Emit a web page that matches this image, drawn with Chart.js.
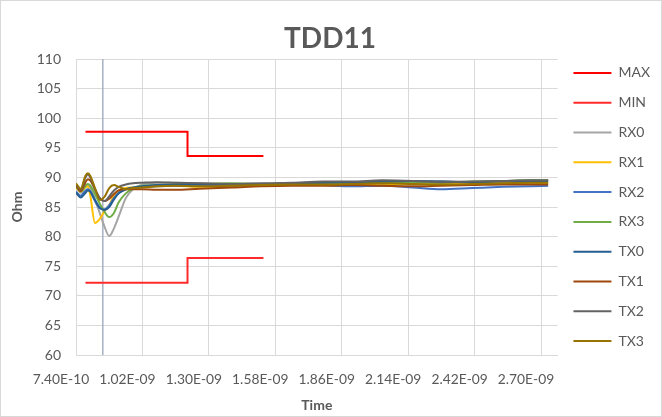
<!DOCTYPE html>
<html>
<head>
<meta charset="utf-8">
<script src="https://cdn.jsdelivr.net/npm/chart.js@4/dist/chart.umd.min.js"></script>
<style>
html,body{margin:0;padding:0;background:#fff;}
#wrap{width:662px;height:417px;position:relative;}
</style>
</head>
<body>
<div id="wrap"><canvas id="c"></canvas></div>
<script>
// ---- data (time in ns, impedance in Ohm) ----
const timeNs = [0.74,0.76,0.78,0.79,0.80,0.82,0.84,0.86,0.88,0.90,0.92,0.95,0.98,1.02,1.08,1.16,1.26,1.40,1.52,1.65,1.78,1.90,2.03,2.16,2.28,2.41,2.54,2.66,2.73];
const RX0 = [88.4,87.4,88.6,88.8,88.3,86.3,84.0,81.7,80.1,81.4,83.4,86.5,88.0,88.8,89.1,89.1,89.0,88.9,88.8,89.0,89.1,89.0,89.2,89.3,89.4,89.2,89.4,89.5,89.5];
const RX1 = [88.3,87.6,88.3,88.5,87.0,82.3,83.0,84.3,85.3,87.0,87.8,88.2,88.3,88.4,88.5,88.6,88.4,88.5,88.7,88.8,88.9,88.6,88.8,88.9,89.0,88.8,89.0,89.1,89.0];
const RX2 = [87.6,86.9,87.8,88.0,87.7,86.0,84.8,84.6,85.3,86.5,87.4,88.0,88.2,88.4,88.5,88.6,88.7,88.6,88.6,88.8,88.7,88.5,88.6,88.3,88.0,88.2,88.4,88.5,88.6];
const RX3 = [88.5,87.6,88.6,88.9,88.6,87.2,85.6,84.2,83.3,84.0,85.8,87.3,88.1,88.6,88.7,88.8,88.9,89.0,88.9,88.9,89.0,89.1,89.2,89.2,89.1,89.3,89.4,89.5,89.5];
const TX0 = [87.4,86.6,87.4,87.8,87.6,86.2,84.9,84.5,85.0,86.3,87.3,88.0,88.3,88.5,88.7,88.8,88.9,88.8,88.9,89.0,89.1,89.2,89.3,89.4,89.3,89.2,89.3,89.4,89.4];
const TX1 = [88.6,87.7,89.2,89.7,89.5,88.0,86.5,86.0,86.4,87.2,87.8,88.0,88.0,88.0,87.9,87.9,88.1,88.3,88.5,88.6,88.6,88.7,88.6,88.5,88.6,88.7,88.8,88.8,88.8];
const TX2 = [88.8,88.0,90.0,90.5,90.0,88.0,86.5,86.0,86.8,87.8,88.4,88.8,89.0,89.1,89.2,89.1,89.0,88.9,89.0,89.1,89.3,89.3,89.5,89.4,89.2,89.3,89.4,89.5,89.5];
const TX3 = [89.0,88.1,90.3,90.7,90.3,88.2,86.2,86.7,88.2,88.7,88.4,88.0,88.2,88.3,88.5,88.6,88.5,88.6,88.7,88.8,88.8,88.9,89.0,88.9,88.8,88.9,89.0,89.1,89.1];

const limitTimeNs = [0.78,1.21,1.21,1.53];
const MAX = [97.7,97.7,93.6,93.6];
const MIN = [72.2,72.2,76.4,76.4];
const cursorTimeNs = 0.853;

const xTickValues = [0.74,1.02,1.30,1.58,1.86,2.14,2.42,2.70];
const xTickLabels = ["7.40E-10","1.02E-09","1.30E-09","1.58E-09","1.86E-09","2.14E-09","2.42E-09","2.70E-09"];
const seriesNames = ["RX0","RX1","RX2","RX3","TX0","TX1","TX2","TX3"];
const seriesValues = [RX0,RX1,RX2,RX3,TX0,TX1,TX2,TX3];
const seriesColors = ["#A5A5A5","#FFC000","#4472C4","#70AD47","#255E91","#9E480E","#636363","#997300"];

const pts = (xs, ys) => xs.map((x,i)=>({x:x, y:ys[i]}));
const textColor = "#595959";
const gridColor = "#D9D9D9";

const datasets = [
  {label:"MAX", data:pts(limitTimeNs, MAX), borderColor:"#FF0000", backgroundColor:"#FF0000", borderWidth:2, tension:0, order:20},
  {label:"MIN", data:pts(limitTimeNs, MIN), borderColor:"#FF2A2A", backgroundColor:"#FF2A2A", borderWidth:2, tension:0, order:19}
];
seriesNames.forEach((n,i)=>{
  datasets.push({label:n, data:pts(timeNs, seriesValues[i]), borderColor:seriesColors[i], backgroundColor:seriesColors[i],
    borderWidth:2, cubicInterpolationMode:"monotone", order:18-i});
});
datasets.push({label:"cursor", data:[{x:cursorTimeNs,y:60},{x:cursorTimeNs,y:110}], borderColor:"#A7B1C4", backgroundColor:"#A7B1C4", borderWidth:1.5, tension:0, order:30});

const frame = {
  id:"frame",
  beforeDraw(chart){
    const c = chart.ctx;
    c.save();
    c.fillStyle="#fff"; c.fillRect(0,0,chart.width,chart.height);
    c.strokeStyle="#D9D9D9"; c.lineWidth=1; c.strokeRect(0.5,0.5,chart.width-1,chart.height-1);
    c.restore();
  }
};

new Chart(document.getElementById("c"), {
  type:"line",
  data:{datasets},
  plugins:[frame],
  options:{
    responsive:true, maintainAspectRatio:false, animation:false,
    events:[],
    elements:{point:{radius:0}},
    layout:{padding:{left:0,right:2,top:0,bottom:3}},
    plugins:{
      tooltip:{enabled:false},
      title:{display:true, text:"TDD11", color:textColor, font:{family:"Lato", size:28, weight:"bold"}, padding:{top:21.7,bottom:3.7}},
      legend:{
        position:"right", fullSize:true,
        labels:{
          color:textColor, font:{family:"Lato", size:14}, boxWidth:38, boxHeight:2, padding:15.8,
          filter:(item)=>item.text!=="cursor",
          sort:(a,b)=>a.datasetIndex-b.datasetIndex,
          generateLabels:(chart)=>Chart.defaults.plugins.legend.labels.generateLabels(chart).map(l=>Object.assign(l,{fillStyle:l.strokeStyle,lineWidth:0}))
        }
      }
    },
    scales:{
      x:{
        type:"linear", min:0.74, max:2.77,
        afterBuildTicks:(axis)=>{axis.ticks = xTickValues.map(v=>({value:v}));},
        afterFit:(s)=>{s.height = 59;},
        ticks:{autoSkip:false, maxRotation:0, minRotation:0, padding:16, labelOffset:-15, color:textColor, font:{family:"Lato", size:13.8},
          callback:(v)=>{const i = xTickValues.findIndex(t=>Math.abs(t-v)<1e-6); return i>=0 ? xTickLabels[i] : "";}},
        grid:{color:gridColor, drawTicks:false},
        border:{color:gridColor},
        title:{display:true, text:"Time", color:textColor, font:{family:"Lato", size:14, weight:"bold"}, padding:{top:0,bottom:0.6}}
      },
      y:{
        min:60, max:110,
        afterFit:(s)=>{s.width = 76;},
        ticks:{stepSize:5, padding:15, color:textColor, font:{family:"Lato", size:14}},
        grid:{color:gridColor, drawTicks:false},
        border:{color:gridColor},
        title:{display:true, text:"Ohm", color:textColor, font:{family:"Lato", size:14, weight:"bold"}, padding:{top:9,bottom:0}}
      }
    }
  }
});
</script>
</body>
</html>
